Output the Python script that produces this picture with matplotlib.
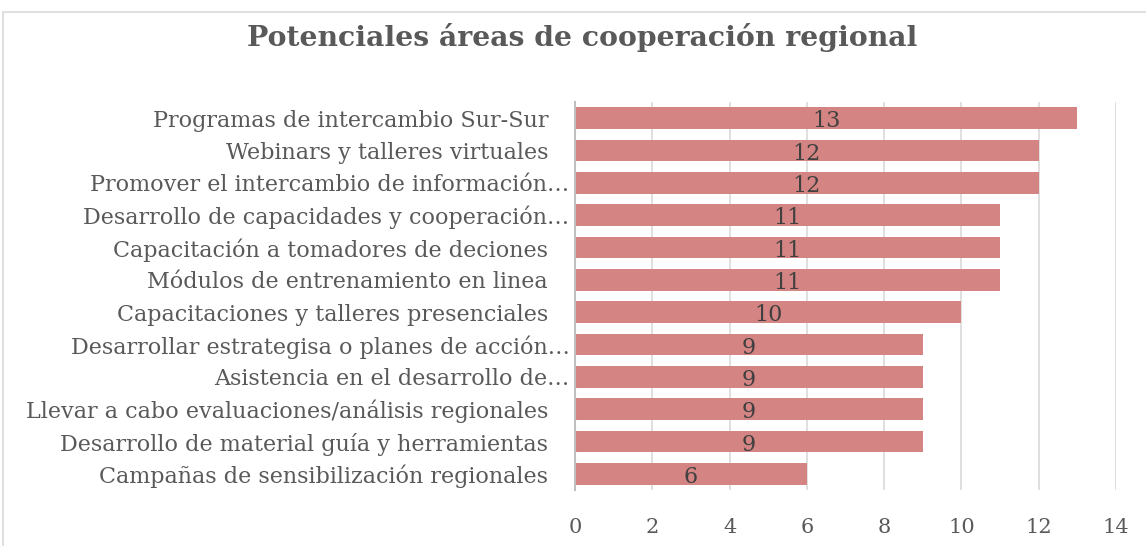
import matplotlib.pyplot as plt
from matplotlib.patches import Rectangle

# categories listed bottom to top
categories = [
    "Campañas de sensibilización regionales",
    "Desarrollo de material guía y herramientas",
    "Llevar a cabo evaluaciones/análisis regionales",
    "Asistencia en el desarrollo de…",
    "Desarrollar estrategisa o planes de acción…",
    "Capacitaciones y talleres presenciales",
    "Módulos de entrenamiento en linea",
    "Capacitación a tomadores de deciones",
    "Desarrollo de capacidades y cooperación…",
    "Promover el intercambio de información…",
    "Webinars y talleres virtuales",
    "Programas de intercambio Sur-Sur",
]
values = [6, 9, 9, 9, 9, 10, 11, 11, 11, 12, 12, 13]
xticks = [0, 2, 4, 6, 8, 10, 12, 14]

textcol = "#595959"
barcol = "#d48482"
plt.rcParams['font.family'] = ['DejaVu Serif']

fig = plt.figure(figsize=(11.46, 5.46), dpi=100)
# outer chart border
fig.patches.append(Rectangle((3 / 1146, -0.05), 1.1, 1 - 12 / 546 + 0.05,
                             transform=fig.transFigure, fill=False,
                             edgecolor="#d9d9d9", linewidth=1.2))

ax = fig.add_axes([575 / 1146, 1 - 490 / 546, 541 / 1146, 388 / 546])
pos = list(range(len(categories)))
ax.barh(pos, values, height=0.68, color=barcol, zorder=2)
for p, v in zip(pos, values):
    ax.text(v / 2, p - 0.1, str(v), ha="center", va="center",
            fontsize=16, color="#404040", zorder=3)

ax.set_xlim(0, 14)
ax.set_ylim(-0.5, len(categories) - 0.5)
ax.set_xticks(xticks)
ax.set_yticks(pos)
ax.set_yticklabels([c + "   " if not c.endswith("…") else c for c in categories])
ax.tick_params(axis="y", length=0, pad=4, labelsize=16, labelcolor=textcol)
ax.tick_params(axis="x", length=0, pad=20, labelsize=15, labelcolor=textcol)
ax.grid(axis="x", color="#d9d9d9", linewidth=1.2, zorder=0)
for s in ["top", "right", "bottom"]:
    ax.spines[s].set_visible(False)
ax.spines["left"].set_color("#bfbfbf")
ax.spines["left"].set_linewidth(1.5)
ax.spines["left"].set_zorder(4)

fig.text(582 / 1146, 1 - 38 / 546, "Potenciales áreas de cooperación regional",
         ha="center", va="center", fontsize=20.3, fontweight="bold", color=textcol)

fig.savefig("out.png", dpi=100)
